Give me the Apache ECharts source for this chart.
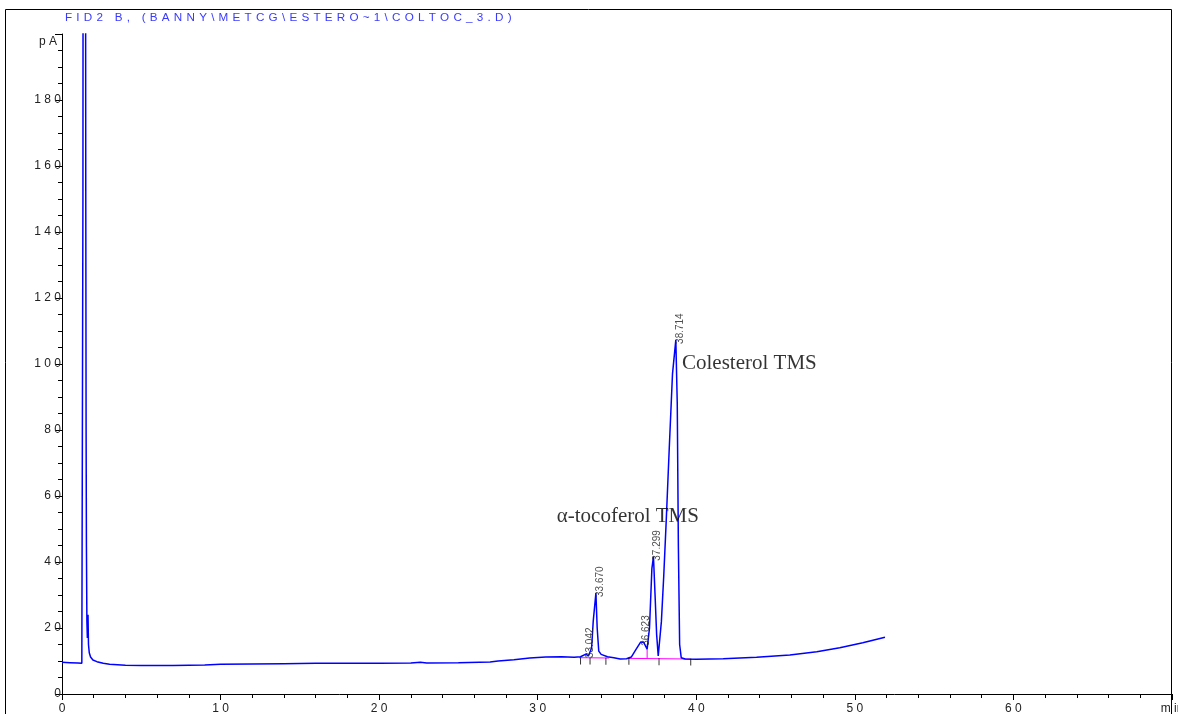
<!DOCTYPE html>
<html>
<head>
<meta charset="utf-8">
<script src="https://cdn.jsdelivr.net/npm/echarts@6/dist/echarts.min.js"></script>
<style>
html,body{margin:0;padding:0;background:#fff;}
#chart{width:1178px;height:714px;}
</style>
</head>
<body>
<div id="chart"></div>
<script>
// ---- data ----
const titleText = 'FID2 B, (BANNY\\METCG\\ESTERO~1\\COLTOC_3.D)';
const timeMin = [0, 0.5, 1.0, 1.25, 1.30, 1.32, 1.34, 1.40, 1.47, 1.50, 1.52, 1.54, 1.57, 1.60, 1.64, 1.67, 1.72, 1.80, 1.95, 2.2, 2.6, 3.0, 4.0, 5.0, 6.0, 7.0, 8.0, 9.0, 10.0, 12.0, 14.0, 16.0, 18.0, 20.0, 22.0, 22.6, 23.0, 25.0, 27.0, 27.5, 28.5, 29.5, 30.5, 31.5, 32.3, 32.7, 33.04, 33.2, 33.4, 33.5, 33.67, 33.75, 33.85, 34.0, 34.4, 34.8, 35.2, 35.6, 35.9, 36.2, 36.5, 36.7, 36.9, 37.05, 37.2, 37.3, 37.4, 37.5, 37.6, 37.7, 37.8, 37.95, 38.1, 38.3, 38.5, 38.71, 38.8, 38.87, 38.95, 39.05, 39.3, 40.0, 41.7, 43.8, 45.9, 47.6, 49.05, 50.5, 51.9];
const signalPA = [9.6, 9.5, 9.4, 9.3, 9.4, 150, 320, 330, 320, 150, 80, 45, 22, 17, 24, 15, 12.5, 11.2, 10.3, 9.8, 9.3, 9.0, 8.7, 8.6, 8.6, 8.6, 8.7, 8.8, 9.0, 9.1, 9.2, 9.3, 9.3, 9.3, 9.4, 9.6, 9.4, 9.5, 9.7, 10.0, 10.4, 10.9, 11.2, 11.3, 11.1, 11.3, 12.1, 11.5, 14, 22, 30.6, 20, 13, 12, 11.3, 11.0, 10.6, 10.7, 11.2, 13.5, 15.8, 15.5, 13.6, 20, 38, 41.6, 30, 18, 11.5, 12, 22, 36, 52, 75, 97, 107.3, 88, 45, 15, 11.0, 10.6, 10.5, 10.7, 11.1, 11.8, 12.8, 14.0, 15.5, 17.2];
const baselineT = [32.6, 34.5, null, 35.7, 39.6, null, 36.9, 36.9];
const baselineV = [11.0, 10.9, null, 10.8, 10.6, null, 10.7, 13.6];
const eventT = [32.7, 33.3, 34.3, 35.75, 37.65, 39.65];
const eventV = [10.9, 10.9, 10.8, 10.8, 10.7, 10.6];
const peakNames = ['33.042', '33.670', '36.623', '37.299', '38.714'];
const peakT = [33.042, 33.670, 36.623, 37.299, 38.714];
const peakV = [12.1, 30.6, 15.8, 41.6, 107.3];
const annoText = ['α-tocoferol TMS', 'Colesterol TMS'];
const annoT = [31.2, 39.1];
const annoV = [53.9, 100.3];
const xUnit = 'm in';
const yUnit = 'p A';

// ---- build ----
const spaced = s => String(s).split('').join(' ');
const wide = s => s.split('').join('\u200a ');
const lineData = timeMin.map((t, i) => [t, signalPA[i]]);
const baseData = baselineT.map((t, i) => t === null ? [null, null] : [t, baselineV[i]]);
const narrow = "'Liberation Sans Narrow','Arial Narrow','Liberation Sans',sans-serif";

const chart = echarts.init(document.getElementById('chart'), null, {renderer: 'canvas'});
chart.setOption({
  animation: false,
  backgroundColor: '#ffffff',
  grid: {left: 62, right: 6, top: 34, bottom: 20, containLabel: false, outerBoundsMode: 'none'},
  graphic: [
    {type: 'rect', shape: {x: 5.5, y: 9.5, width: 1166, height: 730}, style: {fill: 'none', stroke: '#000', lineWidth: 1}, silent: true},
    {type: 'text', left: 65, top: 12, style: {text: wide(titleText), fill: '#3a3aff', font: "11.7px " + narrow}}
  ],
  xAxis: {
    type: 'value', min: 0, max: 70, interval: 10,
    axisLine: {show: true, onZero: false, lineStyle: {color: '#000', width: 1}},
    axisTick: {show: true, length: 6, lineStyle: {color: '#000'}},
    minorTick: {show: true, splitNumber: 5, length: 4, lineStyle: {color: '#000'}},
    splitLine: {show: false},
    axisLabel: {
      margin: 9, color: '#222', fontSize: 12, fontFamily: narrow,
      formatter: v => v === 70 ? xUnit : spaced(v)
    }
  },
  yAxis: {
    type: 'value', min: 0, max: 200, interval: 20,
    axisLine: {show: true, onZero: false, lineStyle: {color: '#000', width: 1}},
    axisTick: {show: true, length: 7, lineStyle: {color: '#000'}},
    minorTick: {show: true, splitNumber: 4, length: 4, lineStyle: {color: '#000'}},
    splitLine: {show: false},
    axisLabel: {
      margin: 1, color: '#222', fontSize: 12, fontFamily: narrow,
      formatter: v => v === 200 ? '{u|' + yUnit + '}' : spaced(v),
      rich: {u: {fontSize: 12, fontFamily: narrow, color: '#222', padding: [16, 4, 0, 0]}}
    }
  },
  series: [
    {
      type: 'line', data: lineData, showSymbol: false, symbol: 'none', clip: true,
      lineStyle: {color: '#0000ff', width: 1.5}, z: 3
    },
    {
      type: 'line', data: baseData, showSymbol: false, symbol: 'none', connectNulls: false,
      lineStyle: {color: '#ff00ff', width: 1}, z: 2
    },
    {
      type: 'scatter', data: eventT.map((t, i) => [t, eventV[i]]),
      symbol: 'rect', symbolSize: [1, 7], symbolOffset: [0, 3],
      itemStyle: {color: '#000'}, z: 4
    },
    {
      type: 'scatter', data: peakT.map((t, i) => ({value: [t, peakV[i]], name: peakNames[i]})),
      symbolSize: 0, z: 5,
      label: {show: true, formatter: p => p.name, rotate: 90, position: [4, 4], align: 'left', verticalAlign: 'middle',
        color: '#222', fontSize: 10, fontFamily: narrow}
    },
    {
      type: 'scatter', data: annoT.map((t, i) => ({value: [t, annoV[i]], name: annoText[i]})),
      symbolSize: 0, z: 5,
      label: {show: true, formatter: p => p.name, position: [0, 0], align: 'left', verticalAlign: 'middle',
        color: '#000', fontSize: 21, fontFamily: "'Liberation Serif','Times New Roman',serif"}
    }
  ]
});
</script>
</body>
</html>
